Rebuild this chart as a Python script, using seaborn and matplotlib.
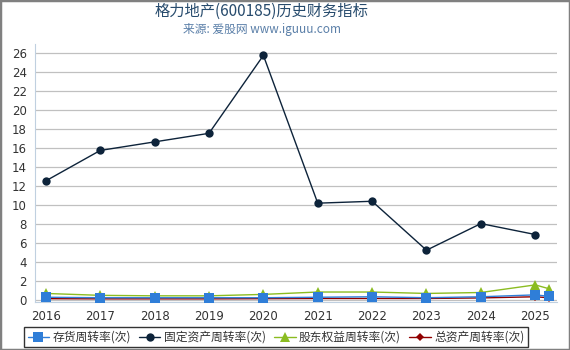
import matplotlib
matplotlib.use("Agg")
import matplotlib.pyplot as plt
import seaborn as sns
import pandas as pd
from matplotlib.patches import Rectangle

sns.set_theme(style="white")
plt.rcParams['font.family'] = ['Noto Sans CJK SC', 'DejaVu Sans']

x_pos = [2016, 2017, 2018, 2019, 2020, 2021, 2022, 2023, 2024, 2025, 2025.25]
year_ticks = [2016, 2017, 2018, 2019, 2020, 2021, 2022, 2023, 2024, 2025]

inventory = [0.25, 0.2, 0.2, 0.2, 0.2, 0.25, 0.3, 0.2, 0.3, 0.5, 0.35]
fixed_asset = [12.5, 15.7, 16.6, 17.5, 25.7, 10.15, 10.35, 5.2, 8.0, 6.85, None]
equity = [0.65, 0.45, 0.4, 0.4, 0.55, 0.8, 0.8, 0.65, 0.75, 1.55, 1.15]
total_asset = [0.1, 0.08, 0.08, 0.08, 0.1, 0.12, 0.12, 0.12, 0.18, 0.3, 0.2]

names = ['存货周转率(次)', '固定资产周转率(次)', '股东权益周转率(次)', '总资产周转率(次)']
series = [inventory, fixed_asset, equity, total_asset]
colors = ['#2f7ed8', '#0d233a', '#8bbc21', '#910000']
markers = ['s', 'o', '^', 'D']
msizes = [6.5, 6, 7, 4]
zorders = [5, 4, 3, 2]

rows = []
for n, vals in zip(names, series):
    for xv, v in zip(x_pos, vals):
        if v is not None:
            rows.append({'x': xv, 'value': v, 'series': n})
df = pd.DataFrame(rows)

fig = plt.figure(figsize=(5.7, 3.5), dpi=100)
ax = fig.add_axes([35/570, 1 - 302/350, 522/570, 258/350])

for n, c, m, ms, z in zip(names, colors, markers, msizes, zorders):
    sub = df[df['series'] == n]
    sns.lineplot(data=sub, x='x', y='value', ax=ax, color=c, marker=m,
                 markersize=ms, markeredgewidth=0, linewidth=1, label=n,
                 estimator=None, sort=False, zorder=z)

ax.set_xlim(2015.80, 2025.40)
ax.set_ylim(-0.25, 26.9)
ax.set_yticks(range(0, 27, 2))
ax.set_xticks(year_ticks)
ax.set_xticklabels([str(y) for y in year_ticks], family=['DejaVu Sans'], fontsize=8.5, color='#333333')
ax.set_yticklabels([str(v) for v in range(0, 27, 2)], family=['DejaVu Sans'], fontsize=8.5, color='#333333')
ax.grid(axis='y', color='#c0c0c0', linewidth=0.9)
ax.set_axisbelow(True)
ax.set_xlabel('')
ax.set_ylabel('')
for s in ['top', 'right']:
    ax.spines[s].set_visible(False)
ax.spines['left'].set_color('#c0d0e0')
ax.spines['left'].set_linewidth(0.8)
ax.spines['bottom'].set_color('#c0d0e0')
ax.spines['bottom'].set_linewidth(0.8)
ax.tick_params(axis='x', direction='out', length=4, color='#c0d0e0', pad=2)
ax.tick_params(axis='y', direction='out', length=3, color='#c0c0c0', pad=3)

leg = ax.legend(loc='upper center', bbox_to_anchor=((276 - 35) / 522, -0.075), ncol=4,
                fontsize=8.5, frameon=True, handlelength=1.8, columnspacing=0.7,
                handletextpad=0.3, borderpad=0.3, fancybox=False)
leg.get_frame().set_edgecolor('#000000')
leg.get_frame().set_linewidth(1)
for t in leg.get_texts():
    t.set_color('#333333')

fig.text(262/570, 1 - 11/350, '格力地产(600185)历史财务指标', ha='center', va='center',
         fontsize=11, color='#274b6d')
fig.text(262/570, 1 - 29/350, '来源: 爱股网 www.iguuu.com', ha='center', va='center',
         fontsize=8.5, color='#5a7fa8')

fig.patches.append(Rectangle((0, 0), 1, 1, transform=fig.transFigure, fill=False,
                             edgecolor='#808080', linewidth=2.5))

fig.savefig('out.png', dpi=100)
